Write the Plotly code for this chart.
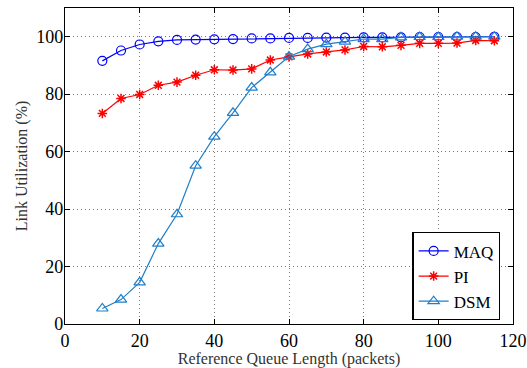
import plotly.graph_objects as go

x_vals = [10, 15, 20, 25, 30, 35, 40, 45, 50, 55, 60, 65, 70, 75, 80, 85, 90, 95, 100, 105, 110, 115]
maq = [91.6, 95.2, 97.3, 98.4, 98.9, 99.0, 99.1, 99.2, 99.4, 99.4, 99.6, 99.6, 99.7, 99.7, 99.8, 99.8, 99.8, 99.9, 99.9, 99.9, 99.9, 100.0]
pi = [73.3, 78.5, 79.9, 83.1, 84.2, 86.6, 88.5, 88.4, 88.8, 91.9, 93.0, 94.0, 94.7, 95.4, 96.6, 96.5, 97.0, 97.7, 97.7, 97.8, 98.7, 98.6]
dsm = [5.4, 8.5, 14.5, 28.0, 38.2, 55.1, 65.2, 73.5, 82.3, 87.6, 93.1, 95.7, 97.4, 98.3, 99.2, 99.2, 99.8, 99.9, 99.9, 100.0, 100.0, 100.0]

x_ticks = [0, 20, 40, 60, 80, 100, 120]
y_ticks = [0, 20, 40, 60, 80, 100]

FONT = "Liberation Serif"

fig = go.Figure()
fig.add_trace(go.Scatter(x=x_vals, y=maq, name="MAQ", mode="lines+markers",
                         line=dict(color="#0000FF", width=1.2),
                         marker=dict(symbol="circle-open", size=9, color="#0000FF", line=dict(width=1.2))))
fig.add_trace(go.Scatter(x=x_vals, y=pi, name="PI", mode="lines+markers",
                         line=dict(color="#FF0000", width=1.2),
                         marker=dict(symbol="asterisk-open", size=8, color="#FF0000", line=dict(width=1.5, color="#FF0000"))))
fig.add_trace(go.Scatter(x=x_vals, y=dsm, name="DSM", mode="lines+markers",
                         line=dict(color="#1f7fc8", width=1.2),
                         marker=dict(symbol="triangle-up-open", size=10, color="#1f7fc8", line=dict(width=1.2))))

axis_common = dict(
    showline=True, linecolor="black", linewidth=1.2, mirror="ticks",
    ticks="inside", ticklen=5, tickcolor="black",
    showgrid=True, gridcolor="#777777", griddash="1px,3px", gridwidth=1,
    zeroline=False, automargin=False,
    tickfont=dict(family=FONT, size=18, color="black"),
)

fig.update_xaxes(range=[0, 120], tickvals=x_ticks,
                 title=dict(text="Reference Queue Length (packets)", font=dict(family=FONT, size=16, color="#333333"), standoff=4),
                 **axis_common)
fig.update_yaxes(range=[0, 110], tickvals=y_ticks, ticklabelstandoff=-3,
                 title=dict(text="Link Utilization (%)", font=dict(family=FONT, size=16, color="#333333"), standoff=4),
                 **axis_common)

fig.update_layout(
    width=527, height=368,
    margin=dict(l=65, r=14, t=8, b=44),
    plot_bgcolor="white", paper_bgcolor="white",
    font=dict(family=FONT, color="black"),
    legend=dict(x=0.972, y=0.012, xanchor="right", yanchor="bottom",
                bgcolor="white", bordercolor="black", borderwidth=1.2,
                font=dict(family=FONT, size=17, color="black"),
                tracegroupgap=0, itemwidth=30),
)

fig.write_html("out.html", config={"displayModeBar": False},
               post_script="document.body.style.margin='0';")
